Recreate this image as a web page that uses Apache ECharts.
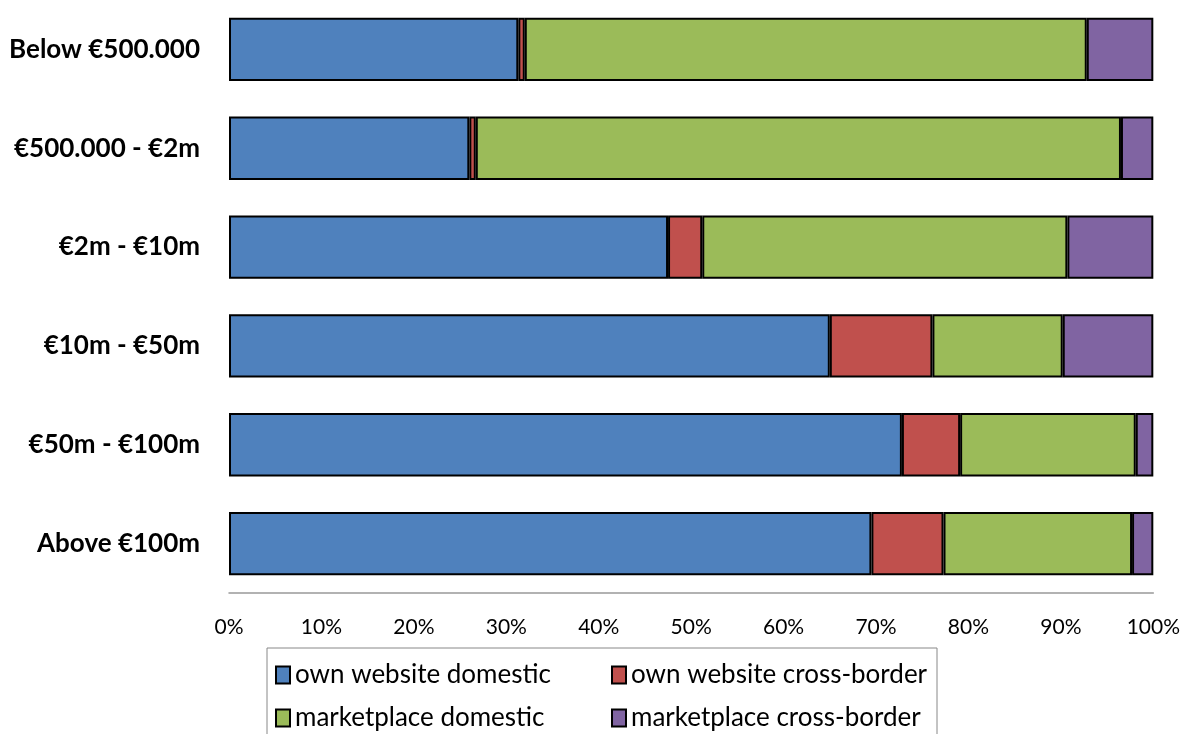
<!DOCTYPE html>
<html><head><meta charset="utf-8">
<script src="https://cdn.jsdelivr.net/npm/echarts@6/dist/echarts.min.js"></script>
<style>html,body{margin:0;padding:0;background:#fff}#c{width:1183px;height:734px}</style>
</head><body><div id="c"></div>
<script>
const categories = ["Below €500.000", "€500.000 - €2m", "€2m - €10m", "€10m - €50m", "€50m - €100m", "Above €100m"];
const seriesNames = ["own website domestic", "own website cross-border", "marketplace domestic", "marketplace cross-border"];
const ownDomestic = [31.3, 26.0, 47.5, 65.0, 72.8, 69.5];
const ownCross = [0.7, 0.7, 3.7, 11.1, 6.3, 7.8];
const marketDomestic = [60.8, 69.8, 39.5, 14.1, 19.0, 20.4];
const marketCross = [7.2, 3.5, 9.3, 9.8, 1.9, 2.3];
const colors = ["#4F81BD", "#C0504D", "#9BBB59", "#8064A2"];
const values = [ownDomestic, ownCross, marketDomestic, marketCross];
const FONT = 'Lato, "Open Sans", "Noto Sans", sans-serif';

const chart = echarts.init(document.getElementById('c'), null, {renderer: 'canvas'});
chart.setOption({
  animation: false,
  grid: {left: 229, right: 28, top: -1, bottom: 141, containLabel: false},
  xAxis: {
    type: 'value', min: 0, max: 100, interval: 10,
    axisLine: {show: true, lineStyle: {color: '#999', width: 1.5}},
    axisTick: {show: false},
    splitLine: {show: false},
    axisLabel: {formatter: '{value}%', color: '#000', fontSize: 21, fontFamily: FONT, margin: 24}
  },
  yAxis: {
    type: 'category', data: categories, inverse: true,
    axisLine: {show: false}, axisTick: {show: false},
    axisLabel: {color: '#000', fontSize: 26, fontWeight: 'bold', fontFamily: FONT, margin: 29}
  },
  legend: {
    left: 267, top: 648, width: 700,
    orient: 'horizontal',
    padding: [14, 7, 30, 8],
    borderColor: '#888', borderWidth: 1,
    itemWidth: 14, itemHeight: 17, itemGap: 17,
    icon: 'rect',
    textStyle: {color: '#000', fontSize: 26, fontFamily: FONT, width: 299, lineHeight: 26},
    data: seriesNames
  },
  series: seriesNames.map((n, i) => ({
    name: n, type: 'bar', stack: 'total',
    barCategoryGap: '36%',
    data: values[i],
    itemStyle: {color: colors[i], borderColor: '#000', borderWidth: 2}
  }))
});
</script></body></html>
